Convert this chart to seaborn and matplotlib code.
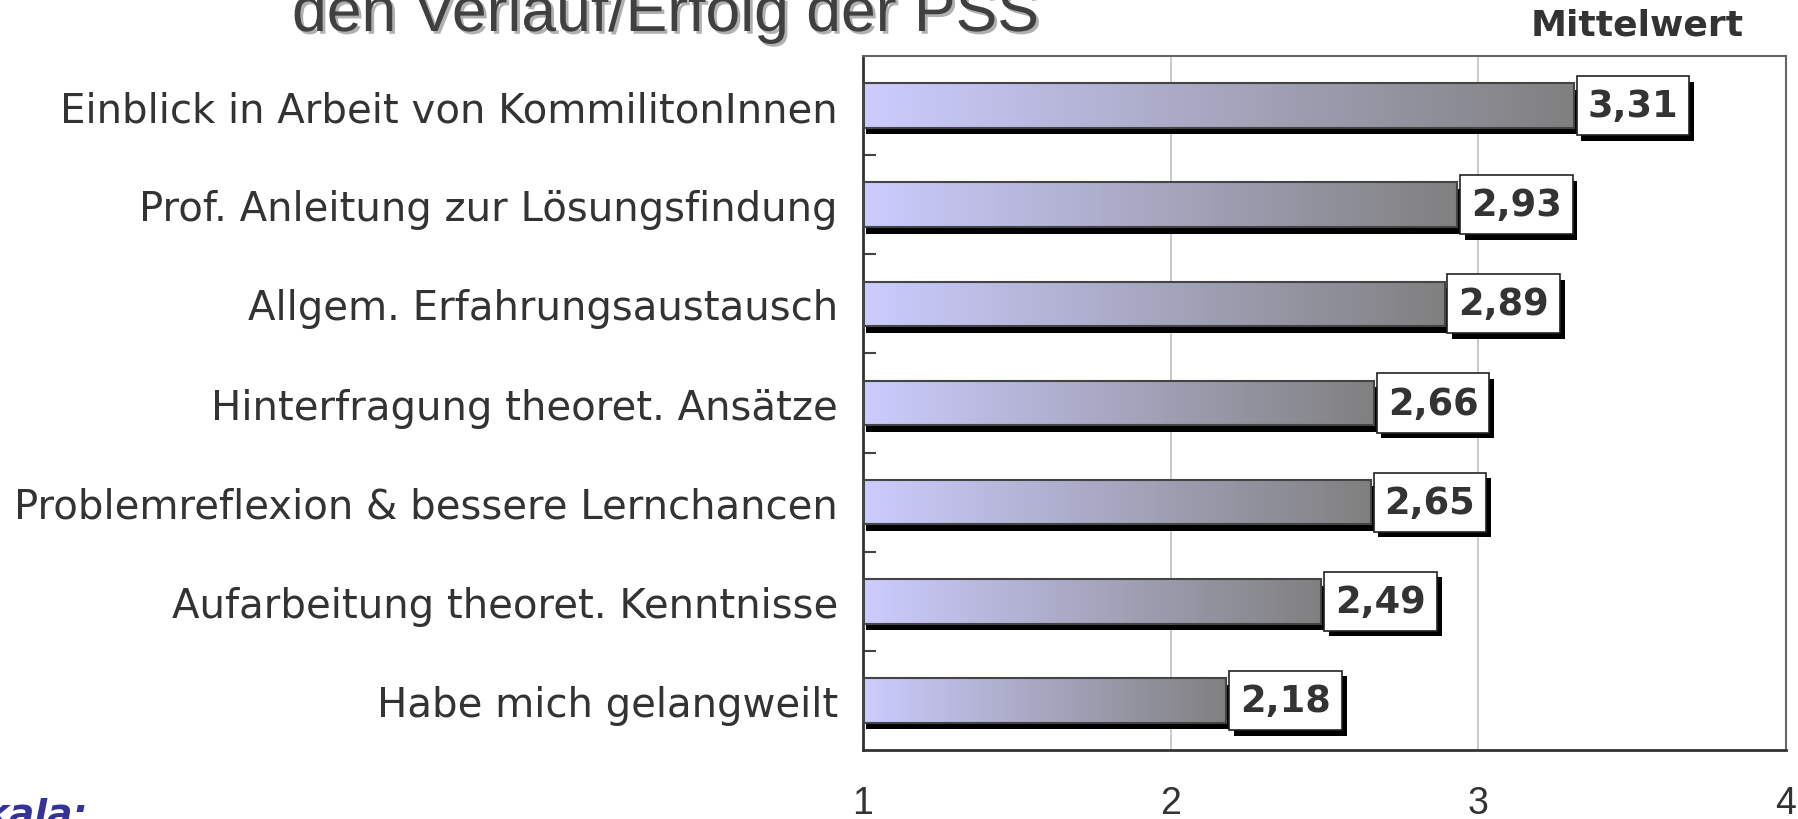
import numpy as np
import pandas as pd
import matplotlib
matplotlib.use("Agg")
import matplotlib.pyplot as plt
import matplotlib.patheffects as pe
from matplotlib.colors import LinearSegmentedColormap
from matplotlib.patches import Rectangle
from matplotlib.transforms import ScaledTranslation
import seaborn as sns

"""Data"""
categories = ["Einblick in Arbeit von KommilitonInnen",
              "Prof. Anleitung zur Lösungsfindung",
              "Allgem. Erfahrungsaustausch",
              "Hinterfragung theoret. Ansätze",
              "Problemreflexion & bessere Lernchancen",
              "Aufarbeitung theoret. Kenntnisse",
              "Habe mich gelangweilt"]
means = [3.31, 2.93, 2.89, 2.66, 2.65, 2.49, 2.18]
x_ticks = [1, 2, 3, 4]

df = pd.DataFrame({"item": categories, "mean": means})

sns.set_style("white")
plt.rcParams["font.family"] = ["DejaVu Sans"]
narrow = ["Liberation Sans Narrow", "Liberation Sans", "DejaVu Sans"]
txt = "#333333"

fig = plt.figure(figsize=(17.99, 8.2), dpi=100)
ax = fig.add_axes([0.4797, 0.0841, 0.9928 - 0.4797, 0.9305 - 0.0841])

sns.barplot(data=df, x="mean", y="item", orient="h", ax=ax, width=0.45,
            color="#CCCCFF", edgecolor="#444444", linewidth=1.5)

"""gradient fill + shadow for each bar, starting at the axis minimum"""
cmap = LinearSegmentedColormap.from_list("bar", ["#CCCCFF", "#808080"])
grad = np.linspace(0, 1, 256).reshape(1, -1)
shift = ScaledTranslation(3.5 / 100, -6.5 / 100, fig.dpi_scale_trans)
for p in ax.patches:
    w = p.get_width()
    p.set_x(x_ticks[0])
    p.set_width(w - x_ticks[0])
    p.set_facecolor("none")
    p.set_zorder(3)
    y0, h = p.get_y(), p.get_height()
    sh = Rectangle((p.get_x(), y0), p.get_width(), h, facecolor="black",
                   edgecolor="none", transform=ax.transData + shift, zorder=1.5)
    ax.add_patch(sh)
    im = ax.imshow(grad, cmap=cmap, aspect="auto", zorder=2,
                   extent=[p.get_x(), p.get_x() + p.get_width(), y0 + h, y0])
    im.set_clip_path(p)

ax.set_xlim(x_ticks[0], x_ticks[-1])
ax.set_ylim(len(categories) - 0.5, -0.5)

"""value boxes"""
for i, v in enumerate(means):
    t = ax.annotate(f"{v:.2f}".replace(".", ","), xy=(v, i), xytext=(10, 0),
                    textcoords="offset points", ha="left", va="center",
                    fontsize=26.5, fontweight="bold", color=txt, zorder=5,
                    bbox=dict(boxstyle="square,pad=0.3", facecolor="white",
                              edgecolor="#222222", linewidth=1.2))
    t.get_bbox_patch().set_path_effects([
        pe.SimplePatchShadow(offset=(3.5, -4), shadow_rgbFace="black", alpha=1),
        pe.Normal()])

"""axes styling"""
ax.set_xticks(x_ticks)
ax.set_xticklabels([str(x) for x in x_ticks], family=narrow, fontsize=27, color=txt)
ax.set_yticks(range(len(categories)))
ax.set_yticklabels(categories, fontsize=29, color=txt)
ax.set_yticks(np.arange(0.5, len(categories) - 0.5, 1), minor=True)
ax.tick_params(axis="x", direction="out", length=9, width=1.5, color="#333333", pad=16)
ax.tick_params(axis="y", which="major", direction="out", length=6, width=1.5,
               color="#444444", pad=12)
ax.tick_params(axis="y", which="minor", direction="in", length=9, width=1.5,
               color="#444444", left=True)
ax.xaxis.grid(True, color="#c0c0c0", linewidth=1.2)
ax.set_axisbelow(True)
ax.set_xlabel("")
ax.set_ylabel("")
for s in ["top", "right"]:
    ax.spines[s].set_visible(True)
    ax.spines[s].set_color("#666666")
    ax.spines[s].set_linewidth(1.5)
for s in ["left", "bottom"]:
    ax.spines[s].set_color("#333333")
    ax.spines[s].set_linewidth(2)

"""texts around the chart"""
fig.text(292 / 1799, 1 - 32 / 820, "den Verlauf/Erfolg der PSS", family=narrow,
         fontsize=45, color="#404040", va="baseline", ha="left",
         path_effects=[pe.withSimplePatchShadow(offset=(2, -2),
                                                shadow_rgbFace="#b0b0b0", alpha=1)])
fig.text(1637 / 1799, 1 - 25 / 820, "Mittelwert", fontsize=26, fontweight="bold",
         color=txt, ha="center", va="center")
fig.text(88 / 1799, 1 - 798 / 820, "Skala:", fontsize=27, fontweight="bold",
         fontstyle="italic", color="#333399", ha="right", va="top")

fig.savefig("out.png", dpi=100)
